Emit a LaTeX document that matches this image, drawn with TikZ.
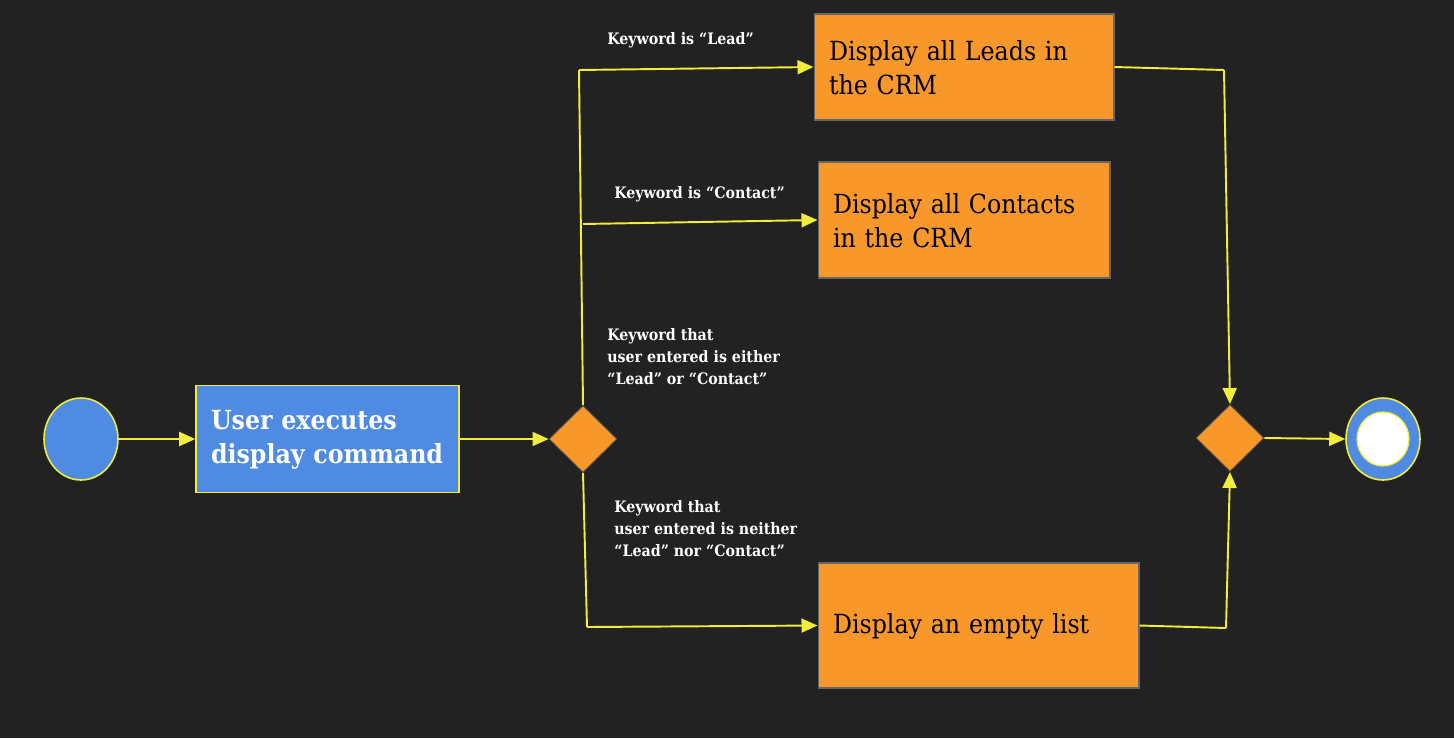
\documentclass[tikz,border=0pt]{standalone}
\usepackage{fontspec}
\setmainfont{DejaVu Serif Condensed}
\usetikzlibrary{shapes.geometric,arrows.meta}

\definecolor{bgdark}{HTML}{222222}
\definecolor{flowyellow}{HTML}{F2EC3A}
\definecolor{stepblue}{HTML}{4F8AE3}
\definecolor{steporange}{HTML}{F8972A}

\begin{document}
\begin{tikzpicture}[x=0.02cm,y=-0.02cm,
  flow/.style={draw=flowyellow,line width=1.1pt},
  arrow/.style={flow,-{Triangle[length=0.32cm,width=0.28cm]}},
  blue box/.style={rectangle,draw=flowyellow,line width=0.9pt,fill=stepblue,text=white,
    font=\bfseries\fontsize{15}{19.3}\selectfont,align=left,inner sep=0.3cm},
  orange box/.style={rectangle,draw=black!60,line width=0.6pt,fill=steporange,text=black,
    font=\fontsize{15}{19.3}\selectfont,align=left,inner sep=0.3cm},
  choice/.style={diamond,draw=black!70,line width=0.5pt,fill=steporange,inner sep=0pt,
    minimum width=1.36cm,minimum height=1.34cm},
  label text/.style={anchor=west,text=white,align=left,inner sep=0pt,
    font=\bfseries\fontsize{9}{12.5}\selectfont}]

  \fill[bgdark] (0,0) rectangle (1454,738);

  \node[ellipse,draw=flowyellow,line width=0.9pt,fill=stepblue,
    minimum width=1.48cm,minimum height=1.64cm] (start) at (81,439) {};
  \node[blue box,minimum width=5.26cm,minimum height=2.14cm,text width=4.66cm]
    (exec) at (327.5,439) {\rule{0pt}{12pt}User executes\\display command};
  \node[choice] (split) at (583,439) {};
  \node[orange box,minimum width=6cm,minimum height=2.12cm,text width=5.4cm]
    (leads) at (964,67) {\rule{0pt}{12pt}Display all Leads in\\the CRM};
  \node[orange box,minimum width=5.84cm,minimum height=2.32cm,text width=5.24cm]
    (contacts) at (964,220) {\rule{0pt}{12pt}Display all Contacts\\in the CRM};
  \node[orange box,minimum width=6.42cm,minimum height=2.5cm,text width=5.82cm]
    (empty) at (978.5,625.5) {\rule{0pt}{12pt}Display an empty list};
  \node[choice] (merge) at (1230,438) {};
  \node[ellipse,draw=flowyellow,line width=0.9pt,fill=stepblue,
    minimum width=1.48cm,minimum height=1.64cm] (stop) at (1383,439) {};
  \node[ellipse,draw=flowyellow,line width=0.7pt,fill=white,
    minimum width=1.04cm,minimum height=1.08cm] (stopdot) at (1383,439) {};

  % guard labels
  \node[label text] (lblead) at (607,40) {Keyword is “Lead”};
  \node[label text] (lbcontact) at (614,194) {Keyword is “Contact”};
  \node[label text] (lbeither) at (607,357)
    {Keyword that\\user entered is either\\“Lead” or “Contact”};
  \node[label text] (lbneither) at (614,529)
    {Keyword that\\user entered is neither\\“Lead” nor “Contact”};

  % bends of the connectors
  \coordinate (c1) at (579,70);
  \coordinate (c2) at (583,224);
  \coordinate (c3) at (587,627);
  \coordinate (c4) at (1224,70);
  \coordinate (c5) at (1226,628);

  \draw[arrow] (start) -- (exec);
  \draw[arrow] (exec) -- (split.west);
  \draw[flow] (split.north) -- (c1);
  \draw[arrow] (c1) -- (leads.west);
  \draw[arrow] (c2) -- (contacts.west);
  \draw[flow] (split.south) -- (c3);
  \draw[arrow] (c3) -- (empty.west);
  \draw[flow] (leads.east) -- (c4);
  \draw[arrow] (c4) -- (merge.north);
  \draw[flow] (empty.east) -- (c5);
  \draw[arrow] (c5) -- (merge.south);
  \draw[arrow] (merge.east) -- (stop.west);
\end{tikzpicture}
\end{document}
